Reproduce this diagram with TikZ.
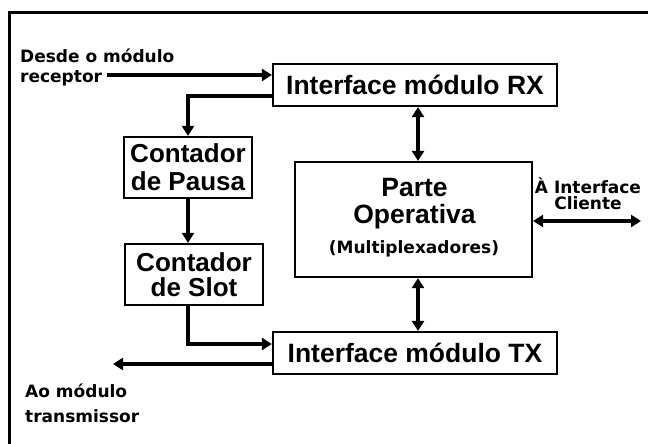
\documentclass[tikz,border=0pt]{standalone}
\usepackage{fontspec}
\setmainfont{Liberation Sans}
\newfontfamily\labfont{DejaVu Sans}
\usetikzlibrary{arrows.meta}
\begin{document}
\begin{tikzpicture}[x=1pt,y=-1pt,
  blk/.style={draw, line width=2.2pt, inner sep=0pt, align=center},
  bfont/.style={font=\bfseries\fontsize{26.5}{28}\selectfont},
  lab/.style={font=\labfont\bfseries\fontsize{17}{19.5}\selectfont, inner sep=0pt},
  arr/.style={line width=3.5pt, -{Triangle[length=10pt,width=12pt]}},
  darr/.style={line width=3.5pt, {Triangle[length=10pt,width=12pt]}-{Triangle[length=10pt,width=12pt]}},
  frame/.style={line width=3pt, line join=miter}
]
\useasboundingbox (0,0) rectangle (648,444);
\draw[frame] (648,13) -- (9,13) -- (9,444);

% boxes
\node[blk, bfont, minimum width=284pt, minimum height=42pt, text height=19pt, text depth=0pt] (rx) at (415,85) {Interface módulo RX};
\node[blk, bfont, minimum width=284pt, minimum height=42pt, text height=19pt, text depth=0pt] (tx) at (415,353) {Interface módulo TX};
\node[blk, font=\bfseries\fontsize{26}{28.3}\selectfont, minimum width=128pt, minimum height=61pt] (pausa) at (188,167.5) {Contador\\de Pausa};
\node[blk, font=\bfseries\fontsize{26}{25}\selectfont, minimum width=138pt, minimum height=61pt] (slot) at (194,274.5) {Contador\\de Slot};
\node[blk, minimum width=237pt, minimum height=115pt] (parte) at (413.5,219.5) {};
\node[bfont, anchor=base, inner sep=0pt] (tparte) at (414.5,196.7) {Parte};
\node[bfont, anchor=base, inner sep=0pt] (toper) at (414.5,223.3) {Operativa};
\node[lab, anchor=base] (tmux) at (414,253.5) {(Multiplexadores)};

% labels
\node[lab, anchor=north west, align=left] (lin) at (20,49) {Desde o módulo\\receptor};
\node[lab, anchor=north west, align=left, font=\labfont\bfseries\fontsize{17}{24.5}\selectfont] (lout) at (25,384) {Ao módulo\\transmissor};
\node[lab, anchor=north, align=center, font=\labfont\bfseries\fontsize{17}{16.5}\selectfont] (lcli) at (588,177.5) {À Interface\\Cliente};

% connectors
\coordinate (inS) at (107,75);
\coordinate (outE) at (113,364);
\coordinate (cliE) at (641,221);
\draw[arr] (inS) -- (inS -| rx.west);
\draw[arr] ([yshift=-11pt]rx.west) -| (pausa.north);
\draw[arr] (pausa.south) -- (pausa.south |- slot.north);
\draw[arr] (pausa.south |- slot.south) |- ([yshift=9pt]tx.west);
\draw[arr] ([yshift=-11pt]tx.west) -- (outE);
\draw[darr] ([xshift=3pt]rx.south) -- ([xshift=3pt]rx.south |- parte.north);
\draw[darr] ([xshift=3pt]rx.south |- parte.south) -- ([xshift=3pt]rx.south |- tx.north);
\draw[darr] (parte.east |- cliE) -- (cliE);
\end{tikzpicture}
\end{document}
